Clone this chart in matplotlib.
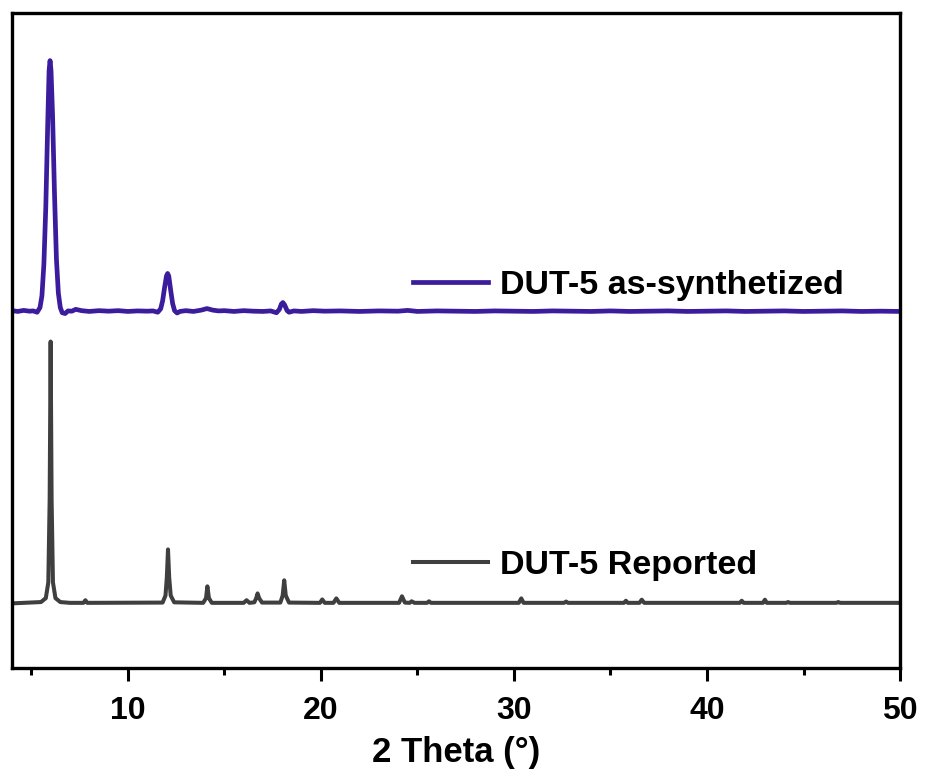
import matplotlib
matplotlib.use("Agg")
import matplotlib.pyplot as plt
from matplotlib.ticker import MultipleLocator

# DUT-5 as-synthetized (intensity relative to own baseline)
synth_2theta = [4.0, 4.3, 4.6, 4.9, 5.1, 5.3, 5.45, 5.55, 5.65, 5.75, 5.85, 5.92, 5.97,
                6.02, 6.1, 6.2, 6.3, 6.4, 6.5, 6.6, 6.75, 6.9, 7.1, 7.3, 7.6, 8.0,
                8.5, 9.0, 9.5, 10.0, 10.5, 11.0, 11.3, 11.55, 11.7, 11.8, 11.9, 12.0,
                12.06, 12.12, 12.22, 12.32, 12.42, 12.55, 12.7, 13.0, 13.4, 13.8,
                14.1, 14.4, 14.7, 15.0, 15.5, 16.0, 16.5, 17.0, 17.4, 17.7, 17.85,
                17.95, 18.03, 18.12, 18.25, 18.35, 18.6, 19.0, 19.6, 20.2, 21.0, 22.0,
                23.0, 24.0, 24.5, 25.0, 26.0, 27.0, 28.0, 29.0, 30.0, 31.0, 32.0,
                33.0, 34.0, 35.0, 36.0, 37.0, 38.0, 39.0, 40.0, 41.0, 42.0, 43.0,
                44.0, 45.0, 46.0, 47.0, 48.0, 49.0, 50.0]
synth_int = [0.3, 0.0, 0.4, 0.1, 0.2, -0.3, 1.5, 6.0, 18.0, 40.0, 72.0, 92.0, 95.8,
             92.0, 75.0, 45.0, 20.0, 7.0, 1.5, -0.5, -0.8, 0.2, 0.1, 0.8, 0.3, 0.0,
             0.3, 0.1, 0.3, 0.0, 0.2, 0.1, 0.2, -0.3, 1.0, 4.0, 9.0, 13.5,
             14.5, 13.5, 8.0, 3.0, 0.3, -0.6, 0.0, 0.3, 0.0, 0.5,
             1.1, 0.5, 0.2, 0.3, 0.0, 0.3, 0.1, 0.0, 0.2, -0.5, 0.8,
             2.8, 3.4, 2.5, 0.3, -0.3, 0.2, 0.0, 0.3, 0.1, 0.2, 0.0,
             0.2, 0.1, 0.4, 0.0, 0.2, 0.1, 0.0, 0.2, 0.1, 0.0, 0.2,
             0.1, 0.0, 0.2, 0.0, 0.1, 0.2, 0.0, 0.1, 0.2, 0.0, 0.1,
             0.2, 0.0, 0.1, 0.2, 0.0, 0.1, 0.0]

# DUT-5 reported pattern
rep_2theta = [4.0, 5.5, 5.75, 5.88, 5.95, 6.0, 6.05, 6.12, 6.25, 6.5, 7.0, 7.7, 7.8,
              7.9, 11.8, 11.95, 12.02, 12.08, 12.14, 12.22, 12.4, 13.9, 14.05, 14.12,
              14.2, 14.35, 16.0, 16.15, 16.3, 16.55, 16.65, 16.72, 16.8, 16.95, 17.9,
              18.02, 18.1, 18.18, 18.35, 19.95, 20.07, 20.2, 20.65, 20.8, 20.95,
              24.05, 24.2, 24.35, 24.6, 24.7, 24.85, 25.5, 25.6, 25.7, 30.25, 30.38,
              30.5, 32.6, 32.7, 32.8, 35.7, 35.8, 35.9, 36.5, 36.62, 36.75, 41.7,
              41.8, 41.9, 42.9, 43.0, 43.1, 44.1, 44.2, 44.3, 46.7, 46.8, 46.9, 50.0]
rep_int = [0.0, 0.5, 2.0, 8.0, 40.0, 100.0, 40.0, 8.0, 2.0, 0.5, 0.2, 0.2, 1.2,
           0.2, 0.3, 3.0, 10.0, 20.6, 10.0, 3.0, 0.4, 0.2, 2.0, 6.5,
           2.0, 0.2, 0.2, 1.2, 0.2, 0.4, 2.0, 3.8, 2.0, 0.3, 0.3,
           3.0, 8.8, 3.0, 0.3, 0.2, 1.5, 0.2, 0.2, 1.9, 0.2,
           0.2, 2.7, 0.3, 0.2, 0.8, 0.2, 0.2, 0.8, 0.2, 0.2, 1.9,
           0.2, 0.2, 0.7, 0.2, 0.2, 1.0, 0.2, 0.2, 1.4, 0.2, 0.2,
           1.0, 0.2, 0.2, 1.4, 0.2, 0.2, 0.5, 0.2, 0.2, 0.5, 0.2, 0.2]

synth_offset = 111.5
labels = ["DUT-5 as-synthetized", "DUT-5 Reported"]
colors = ["#3a1c9c", "#3f3f3f"]

plt.rcParams['font.family'] = ['Liberation Sans', 'DejaVu Sans']
plt.rcParams['font.weight'] = 'bold'

fig = plt.figure(figsize=(9.25, 7.78), dpi=100)
ax = fig.add_axes([0.013, 0.141, 0.96, 0.842])

l1, = ax.plot(synth_2theta, [v + synth_offset for v in synth_int],
              color=colors[0], lw=3.4, solid_joinstyle='round')
l2, = ax.plot(rep_2theta, rep_int, color=colors[1], lw=2.9, solid_joinstyle='round')

ax.set_xlim(4, 50)
ax.set_ylim(-24.8, 225.4)
ax.set_yticks([])
ax.xaxis.set_major_locator(MultipleLocator(10))
ax.xaxis.set_minor_locator(MultipleLocator(5))
ax.tick_params(axis='x', which='major', length=9, width=2.2, labelsize=23, pad=11)
ax.tick_params(axis='x', which='minor', length=5, width=2.2)
for lab in ax.get_xticklabels():
    lab.set_fontweight('bold')
for s in ax.spines.values():
    s.set_linewidth(2.4)
ax.set_xlabel("2 Theta (°)", fontsize=25, fontweight='bold', labelpad=7)

leg1 = ax.legend([l1], [labels[0]], loc='center left', bbox_to_anchor=(0.4365, 0.585),
                 frameon=False, fontsize=24.5, handlelength=2.2, handletextpad=0.35,
                 borderaxespad=0)
ax.add_artist(leg1)
ax.legend([l2], [labels[1]], loc='center left', bbox_to_anchor=(0.4365, 0.157),
          frameon=False, fontsize=24.5, handlelength=2.2, handletextpad=0.35,
          borderaxespad=0)

fig.savefig("out.png", dpi=100)
